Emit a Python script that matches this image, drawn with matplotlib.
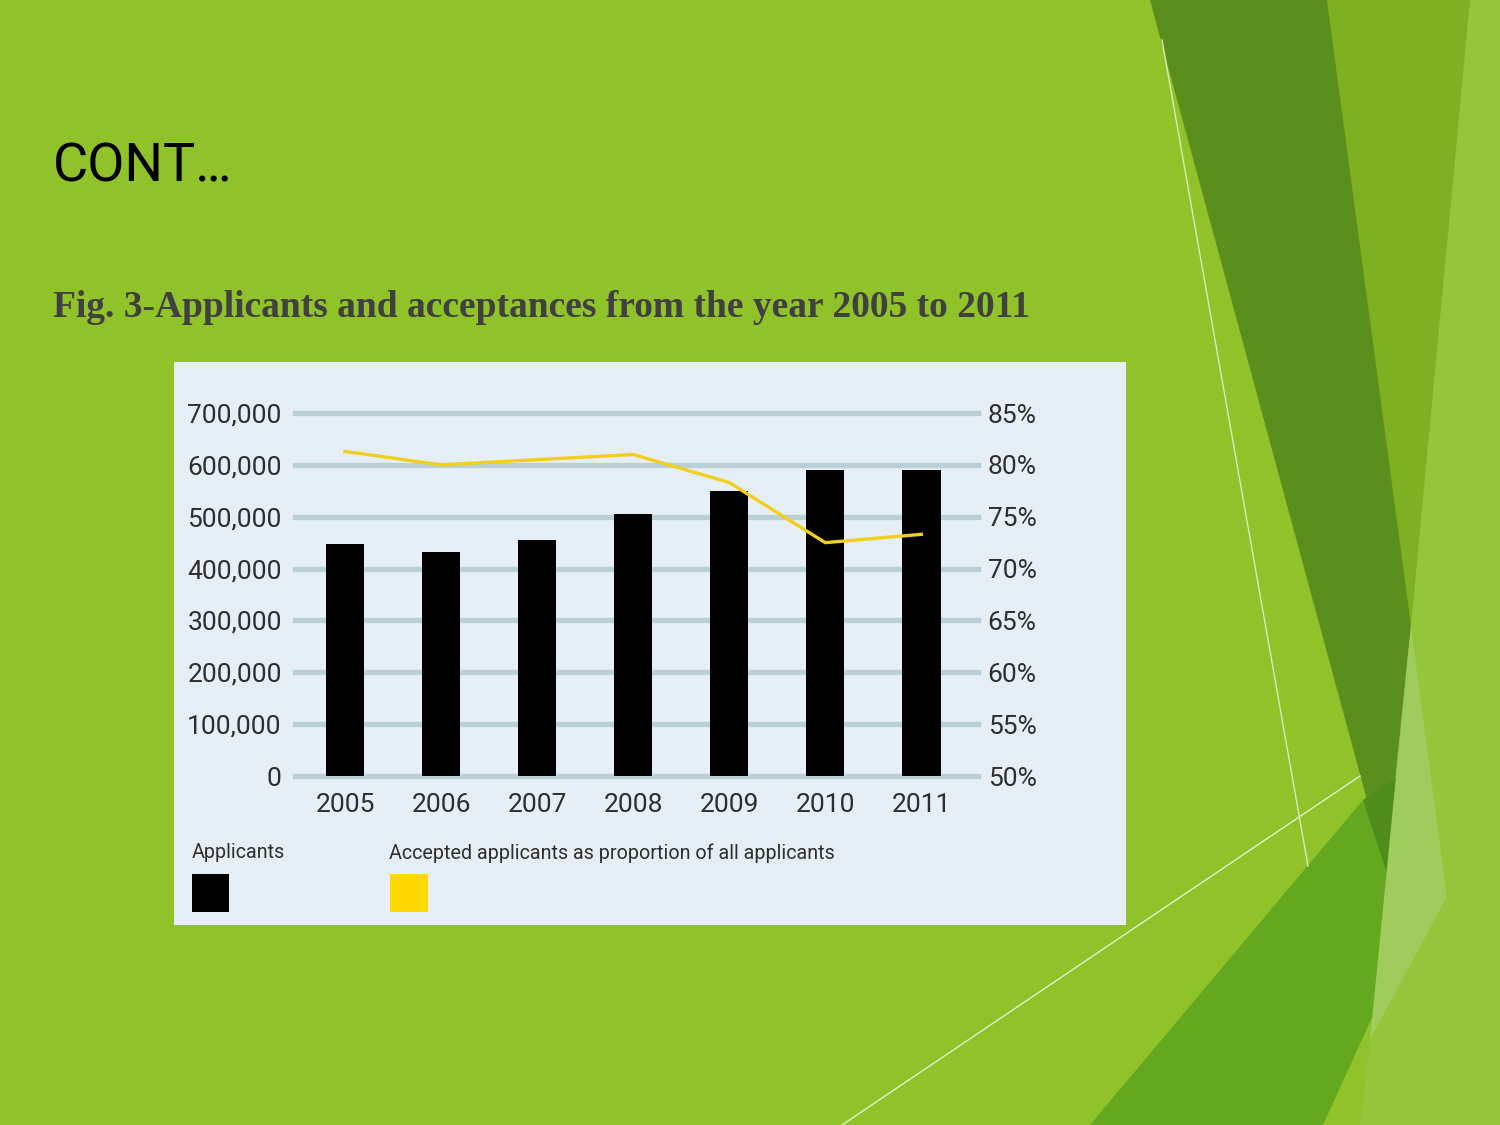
import matplotlib
matplotlib.use("Agg")
import matplotlib.pyplot as plt
from matplotlib.patches import Polygon, Rectangle
from matplotlib.ticker import FixedLocator, FuncFormatter

# ---- data ----
years = ["2005", "2006", "2007", "2008", "2009", "2010", "2011"]
applicants = [448000, 432000, 456000, 506000, 549000, 591000, 591000]
accepted_pct = [81.3, 80.0, 80.5, 81.0, 78.3, 72.5, 73.3]
left_ticks = [0, 100000, 200000, 300000, 400000, 500000, 600000, 700000]
right_ticks = [50, 55, 60, 65, 70, 75, 80, 85]
title = "CONT…"
caption = "Fig. 3-Applicants and acceptances from the year 2005 to 2011"
legend_labels = ["Applicants", "Accepted applicants as proportion of all applicants"]

W, H = 1500, 1125
NARROW = ["Roboto", "DejaVu Sans"]

fig = plt.figure(figsize=(15, 11.25), dpi=100)
fig.patch.set_facecolor("#90c22a")

# background / decoration axes in pixel coordinates
bg = fig.add_axes([0, 0, 1, 1])
bg.set_xlim(0, W)
bg.set_ylim(H, 0)
bg.axis("off")

def poly(pts, color, z=1, alpha=1.0):
    bg.add_patch(Polygon(pts, closed=True, facecolor=color, edgecolor="none",
                         zorder=z, alpha=alpha))

poly([(1470, 0), (1500, 0), (1500, 1125), (1360, 1125), (1370, 1040),
      (1447, 897), (1411, 625)], "#94c53a", 1)
poly([(1327, 0), (1470, 0), (1411, 625)], "#7fb022", 1)
poly([(1150, 0), (1327, 0), (1411, 625), (1386, 870)], "#5a8f1e", 2)
poly([(1090, 1125), (1363, 800), (1400, 775), (1380, 1000), (1323, 1125)],
     "#64a820", 3)
poly([(1363, 800), (1400, 775), (1393, 860), (1386, 870)], "#4f8c1c", 4)
poly([(1411, 625), (1447, 897), (1370, 1040)], "#9fcc5c", 4)
bg.plot([1162, 1308], [40, 866], color="#d8ebb8", lw=1.0, zorder=5)
bg.plot([842, 1360], [1125, 776], color="#e3f0cc", lw=1.0, zorder=5)

# chart panel
bg.add_patch(Rectangle((174, 362), 952, 563, facecolor="#e6eff5",
                       edgecolor="none", zorder=6))

# title and caption
bg.text(53, 182, title, fontsize=39, family=NARROW, color="black",
        ha="left", va="baseline", zorder=7)
bg.text(53, 317, caption, fontsize=27, family=["Liberation Serif", "DejaVu Serif"],
        fontweight="bold", color="#404040", ha="left", va="baseline", zorder=7)

# legend
bg.text(192, 853, legend_labels[0], fontsize=14.2, family=NARROW, color="#2e2e2e",
        ha="left", va="center", zorder=7)
bg.text(389, 853, legend_labels[1], fontsize=14.2, family=NARROW, color="#2e2e2e",
        ha="left", va="center", zorder=7)
bg.add_patch(Rectangle((192, 874), 37, 38, facecolor="black", edgecolor="none", zorder=7))
bg.add_patch(Rectangle((390, 874), 38, 38, facecolor="#ffd800", edgecolor="none", zorder=7))

# chart axes
left, right, top, bottom = 295, 978, 413, 776
ax = fig.add_axes([left / W, 1 - bottom / H, (right - left) / W, (bottom - top) / H])
ax.set_facecolor("none")
x = list(range(len(years)))
ax.set_xlim(-0.52, 6.59)
ax.set_ylim(0, 700000)
for v in left_ticks:
    ax.axhline(v, color="#b9d0d6", lw=3.8, zorder=1, clip_on=False)
ax.bar(x, applicants, width=0.4, color="black", zorder=2)
for s in ax.spines.values():
    s.set_visible(False)
ax.yaxis.set_major_locator(FixedLocator(left_ticks))
ax.yaxis.set_major_formatter(FuncFormatter(lambda v, p: f"{int(v):,}"))
ax.set_xticks(x)
ax.set_xticklabels(years)
ax.tick_params(axis="both", length=0, labelcolor="#2e2e2e", labelsize=19)
ax.tick_params(axis="y", pad=9.5)
ax.tick_params(axis="x", pad=12)
for lab in ax.get_xticklabels() + ax.get_yticklabels():
    lab.set_family(NARROW)

ax2 = ax.twinx()
ax2.set_ylim(50, 85)
ax2.plot(x, accepted_pct, color="#f2cf1d", lw=2.4, zorder=3)
for s in ax2.spines.values():
    s.set_visible(False)
ax2.yaxis.set_major_locator(FixedLocator(right_ticks))
ax2.yaxis.set_major_formatter(FuncFormatter(lambda v, p: f"{int(v)}%"))
ax2.tick_params(axis="y", length=0, labelcolor="#2e2e2e", labelsize=19, pad=7)
for lab in ax2.get_yticklabels():
    lab.set_family(NARROW)

fig.savefig("out.png", dpi=100, facecolor=fig.get_facecolor())
